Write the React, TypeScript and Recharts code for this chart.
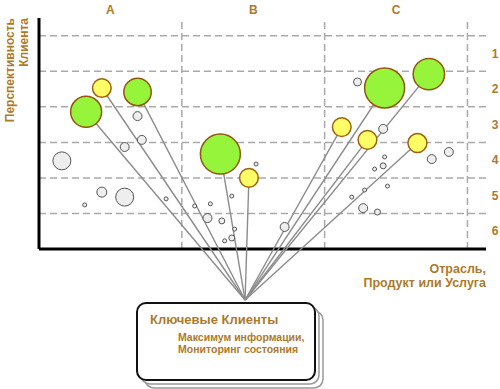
import React from 'react';
import {
    ScatterChart,
    Scatter,
    XAxis,
    YAxis,
    ZAxis,
    CartesianGrid,
    ReferenceLine,
} from 'recharts';

// column (industry) and row (client outlook) labels
const COLUMN_TICKS = [0.5, 1.5, 2.5];
const COLUMN_LABELS = ['A', 'B', 'C'];
const COLUMN_LINES = [1, 2, 3];
const ROW_TICKS = [5.5, 4.5, 3.5, 2.5, 1.5, 0.5];
const ROW_LABELS = ['1', '2', '3', '4', '5', '6'];
const ROW_LINES = [1, 2, 3, 4, 5, 6];

// key clients (green)
const keyClients = [
    { x: 0.33, y: 3.86, z: 240 },
    { x: 0.69, y: 4.42, z: 188 },
    { x: 1.27, y: 2.67, z: 400 },
    { x: 2.42, y: 4.53, z: 400 },
    { x: 2.73, y: 4.92, z: 246 },
];

// prospects (yellow)
const prospects = [
    { x: 0.44, y: 4.53, z: 87 },
    { x: 1.47, y: 2.0, z: 87 },
    { x: 2.12, y: 3.43, z: 87 },
    { x: 2.3, y: 3.07, z: 87 },
    { x: 2.65, y: 2.98, z: 90 },
];

// other clients (grey)
const others = [
    { x: 0.69, y: 3.74, z: 20 },
    { x: 0.72, y: 3.07, z: 20 },
    { x: 0.6, y: 2.87, z: 20 },
    { x: 0.16, y: 2.48, z: 81 },
    { x: 0.44, y: 1.6, z: 25 },
    { x: 0.6, y: 1.46, z: 81 },
    { x: 0.32, y: 1.24, z: 4 },
    { x: 0.89, y: 1.41, z: 4 },
    { x: 1.52, y: 2.39, z: 4 },
    { x: 1.35, y: 1.49, z: 4 },
    { x: 1.09, y: 1.21, z: 4 },
    { x: 1.2, y: 1.27, z: 4 },
    { x: 1.18, y: 0.87, z: 20 },
    { x: 1.28, y: 0.79, z: 9 },
    { x: 1.37, y: 0.56, z: 4 },
    { x: 1.35, y: 0.31, z: 9 },
    { x: 1.3, y: 0.23, z: 4 },
    { x: 1.72, y: 0.62, z: 20 },
    { x: 2.23, y: 4.7, z: 16 },
    { x: 2.41, y: 3.38, z: 20 },
    { x: 2.75, y: 2.53, z: 20 },
    { x: 2.87, y: 2.73, z: 20 },
    { x: 2.42, y: 2.59, z: 4 },
    { x: 2.41, y: 2.34, z: 9 },
    { x: 2.35, y: 2.25, z: 4 },
    { x: 2.44, y: 1.77, z: 4 },
    { x: 2.28, y: 1.66, z: 4 },
    { x: 2.19, y: 1.46, z: 4 },
    { x: 2.27, y: 1.15, z: 20 },
    { x: 2.37, y: 1.04, z: 9 },
];

// where all the spokes meet (top of the "Ключевые Клиенты" card)
const HUB = { x: 1.443, y: -1.435 };

const X_MAX = 3.13;
const Y_MIN = -1.5;
const Y_MAX = 6.5;

const GOLD = '#AD7A2A';
const FONT = '"Liberation Sans", Arial, sans-serif';

const bubble = (fill: string, stroke: string, strokeWidth: number) => (props: any) => {
    const r = props.width ? props.width / 2 : Math.sqrt(props.payload.z);
    return (
        <circle
            cx={props.cx}
            cy={props.cy}
            r={r}
            fill={fill}
            stroke={stroke}
            strokeWidth={strokeWidth}
        />
    );
};

const noDot = () => <g />;

const ColumnTick = (props: any) => (
    <text
        x={props.x}
        y={props.y}
        textAnchor="middle"
        fill={GOLD}
        fontSize={12}
        fontWeight="bold"
        fontFamily={FONT}
    >
        {COLUMN_LABELS[COLUMN_TICKS.indexOf(props.payload.value)]}
    </text>
);

const RowTick = (props: any) => (
    <text
        x={props.x}
        y={props.y}
        dy="0.35em"
        textAnchor="middle"
        fill={GOLD}
        fontSize={12}
        fontWeight="bold"
        fontFamily={FONT}
    >
        {ROW_LABELS[ROW_TICKS.indexOf(props.payload.value)]}
    </text>
);

const spokeTargets = [...keyClients, ...prospects];

export default function App() {
    return (
        <div
            style={{
                position: 'absolute',
                left: 0,
                top: 0,
                width: 500,
                height: 389,
                background: '#fff',
            }}
        >
            <ScatterChart
                width={500}
                height={389}
                margin={{ top: 0, right: 0, left: 39, bottom: 86.7 }}
            >
                <CartesianGrid
                    horizontal
                    vertical={false}
                    horizontalValues={ROW_LINES}
                    stroke="#aaaaaa"
                    strokeWidth={1.5}
                    strokeDasharray="7 4"
                />
                <XAxis
                    type="number"
                    dataKey="x"
                    orientation="top"
                    domain={[0, X_MAX]}
                    ticks={COLUMN_TICKS}
                    tick={<ColumnTick />}
                    tickSize={0}
                    tickMargin={4}
                    axisLine={false}
                    tickLine={false}
                    height={18}
                    interval={0}
                />
                <YAxis
                    type="number"
                    dataKey="y"
                    orientation="right"
                    domain={[Y_MIN, Y_MAX]}
                    ticks={ROW_TICKS}
                    tick={<RowTick />}
                    tickSize={0}
                    tickMargin={9}
                    axisLine={false}
                    tickLine={false}
                    width={14}
                    interval={0}
                />
                <ZAxis type="number" dataKey="z" domain={[0, 400]} range={[0, 400 * Math.PI]} />

                {COLUMN_LINES.map((c) => (
                    <ReferenceLine
                        key={`col-${c}`}
                        segment={[
                            { x: c, y: 0 },
                            { x: c, y: Y_MAX },
                        ]}
                        stroke="#aaaaaa"
                        strokeWidth={1.5}
                        strokeDasharray="7 4"
                    />
                ))}
                <ReferenceLine
                    segment={[
                        { x: 0, y: 0 },
                        { x: 0, y: Y_MAX },
                    ]}
                    stroke="#000"
                    strokeWidth={3}
                />
                <ReferenceLine
                    segment={[
                        { x: 0, y: 0 },
                        { x: X_MAX, y: 0 },
                    ]}
                    stroke="#000"
                    strokeWidth={3}
                />

                {spokeTargets.map((p, i) => (
                    <Scatter
                        key={`spoke-${i}`}
                        data={[HUB, p]}
                        line={{ stroke: '#8c8c8c', strokeWidth: 1.4 }}
                        shape={noDot}
                        isAnimationActive={false}
                    />
                ))}
                <Scatter
                    data={others}
                    shape={bubble('#eeeeee', '#555555', 1)}
                    isAnimationActive={false}
                />
                <Scatter
                    data={prospects}
                    shape={bubble('#ffff66', '#a0600f', 1.5)}
                    isAnimationActive={false}
                />
                <Scatter
                    data={keyClients}
                    shape={bubble('#96f53a', '#95550f', 1.5)}
                    isAnimationActive={false}
                />
            </ScatterChart>

            <svg
                width={500}
                height={389}
                style={{ position: 'absolute', left: 0, top: 0, pointerEvents: 'none' }}
                fontFamily={FONT}
                fontWeight="bold"
            >
                <g transform="rotate(-90)">
                    <text x={-18} y={14} textAnchor="end" fill={GOLD} fontSize={12}>
                        Перспективность
                    </text>
                    <text x={-18} y={28} textAnchor="end" fill={GOLD} fontSize={12}>
                        Клиента
                    </text>
                </g>
                <text x={486} y={273} textAnchor="end" fill={GOLD} fontSize={12.5}>
                    Отрасль,
                </text>
                <text x={486} y={287} textAnchor="end" fill={GOLD} fontSize={12.5}>
                    Продукт или Услуга
                </text>

                <rect x={145} y={311} width={178} height={77} rx={9} fill="#fff" stroke="#999" strokeWidth={1.5} />
                <rect x={141} y={307} width={178} height={77} rx={9} fill="#fff" stroke="#999" strokeWidth={1.5} />
                <rect x={137} y={303} width={178} height={77} rx={9} fill="#fff" stroke="#111" strokeWidth={2} />
                <text x={150} y={324} fill={GOLD} fontSize={13}>
                    Ключевые Клиенты
                </text>
                <text x={178} y={341} fill={GOLD} fontSize={10.5}>
                    Максимум информации,
                </text>
                <text x={178} y={353} fill={GOLD} fontSize={10.5}>
                    Мониторинг состояния
                </text>
            </svg>
        </div>
    );
}
